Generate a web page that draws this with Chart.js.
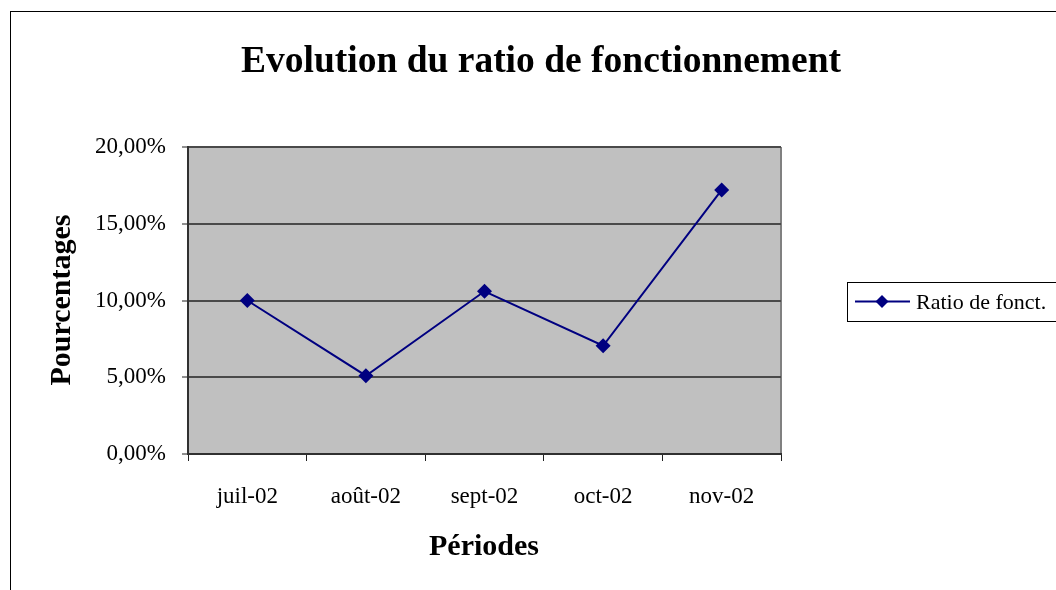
<!DOCTYPE html>
<html>
<head>
<meta charset="utf-8">
<script src="https://cdn.jsdelivr.net/npm/chart.js@4/dist/chart.umd.min.js"></script>
<style>
  html, body { margin: 0; padding: 0; background: #fff; }
  canvas { display: block; }
</style>
</head>
<body>
<canvas id="ratioChart" width="1056" height="590"></canvas>
<script>
// Donnees
const periodes = ['juil-02', 'août-02', 'sept-02', 'oct-02', 'nov-02'];
const ratioFonct = [10.0, 5.1, 10.6, 7.05, 17.2];
const yTicks = [0, 5, 10, 15, 20];

const SERIF = '"Liberation Serif", "Times New Roman", serif';
const NAVY = '#000080';

function formatPct(v) {
  return v.toFixed(2).replace('.', ',') + '%';
}

// fond gris, cadre exterieur, titres et legende
const excelLook = {
  id: 'excelLook',
  beforeDraw(chart) {
    const ctx = chart.ctx;
    const a = chart.chartArea;
    ctx.save();
    ctx.fillStyle = '#fff';
    ctx.fillRect(0, 0, chart.width, chart.height);
    ctx.strokeStyle = '#000';
    ctx.lineWidth = 1;
    ctx.strokeRect(10.5, 11.5, 1200, 800);
    ctx.fillStyle = '#c0c0c0';
    ctx.fillRect(a.left, a.top, a.right - a.left, a.bottom - a.top);
    ctx.strokeStyle = '#808080';
    ctx.lineWidth = 2;
    ctx.beginPath();
    ctx.moveTo(a.right, a.top);
    ctx.lineTo(a.right, a.bottom);
    ctx.stroke();
    ctx.restore();
  },
  afterDraw(chart) {
    const ctx = chart.ctx;
    ctx.save();
    ctx.fillStyle = '#000';
    ctx.textAlign = 'center';
    ctx.textBaseline = 'alphabetic';
    ctx.font = 'bold 37.5px ' + SERIF;
    ctx.fillText('Evolution du ratio de fonctionnement', 541, 72);
    ctx.font = 'bold 30px ' + SERIF;
    ctx.fillText('Périodes', 484, 555);
    ctx.save();
    ctx.translate(70, 300);
    ctx.rotate(-Math.PI / 2);
    ctx.fillText('Pourcentages', 0, 0);
    ctx.restore();

    // legende
    ctx.strokeStyle = '#000';
    ctx.lineWidth = 1;
    ctx.strokeRect(847.5, 282.5, 300, 39);
    ctx.strokeStyle = NAVY;
    ctx.lineWidth = 2;
    ctx.beginPath();
    ctx.moveTo(855, 301.5);
    ctx.lineTo(910, 301.5);
    ctx.stroke();
    ctx.fillStyle = NAVY;
    ctx.beginPath();
    ctx.moveTo(882, 295);
    ctx.lineTo(888.5, 301.5);
    ctx.lineTo(882, 308);
    ctx.lineTo(875.5, 301.5);
    ctx.closePath();
    ctx.fill();
    ctx.fillStyle = '#000';
    ctx.textAlign = 'left';
    ctx.font = '22px ' + SERIF;
    ctx.fillText('Ratio de fonct.', 916, 309);
    ctx.restore();
  }
};

const ctx = document.getElementById('ratioChart').getContext('2d');
new Chart(ctx, {
  type: 'line',
  data: {
    labels: periodes,
    datasets: [{
      label: 'Ratio de fonct.',
      data: ratioFonct,
      borderColor: NAVY,
      backgroundColor: NAVY,
      borderWidth: 2,
      pointStyle: 'rectRot',
      pointRadius: 7.5,
      pointBackgroundColor: NAVY,
      pointBorderColor: NAVY,
      pointBorderWidth: 0,
      tension: 0
    }]
  },
  options: {
    responsive: false,
    animation: false,
    devicePixelRatio: 1,
    layout: {
      padding: { left: 0, top: 147, right: 275, bottom: 0 }
    },
    scales: {
      x: {
        offset: true,
        grid: {
          offset: true,
          drawOnChartArea: false,
          drawTicks: true,
          tickLength: 7,
          tickColor: '#202020',
          tickWidth: 1
        },
        border: { color: '#303030', width: 2 },
        ticks: {
          color: '#000',
          padding: 22,
          font: { family: SERIF, size: 23 }
        },
        afterFit(scale) { scale.height = 590 - 454; }
      },
      y: {
        min: 0,
        max: 20,
        afterBuildTicks(scale) {
          scale.ticks = yTicks.map(v => ({ value: v }));
        },
        grid: {
          color: '#4a4a4a',
          lineWidth: 2,
          drawTicks: true,
          tickLength: 6,
          tickColor: '#202020',
          tickWidth: 1
        },
        border: { color: '#303030', width: 2 },
        ticks: {
          color: '#000',
          padding: 16,
          font: { family: SERIF, size: 23 },
          callback: v => formatPct(v)
        },
        afterFit(scale) { scale.width = 188; }
      }
    },
    plugins: {
      legend: { display: false },
      tooltip: { enabled: false }
    }
  },
  plugins: [excelLook]
});
</script>
</body>
</html>
